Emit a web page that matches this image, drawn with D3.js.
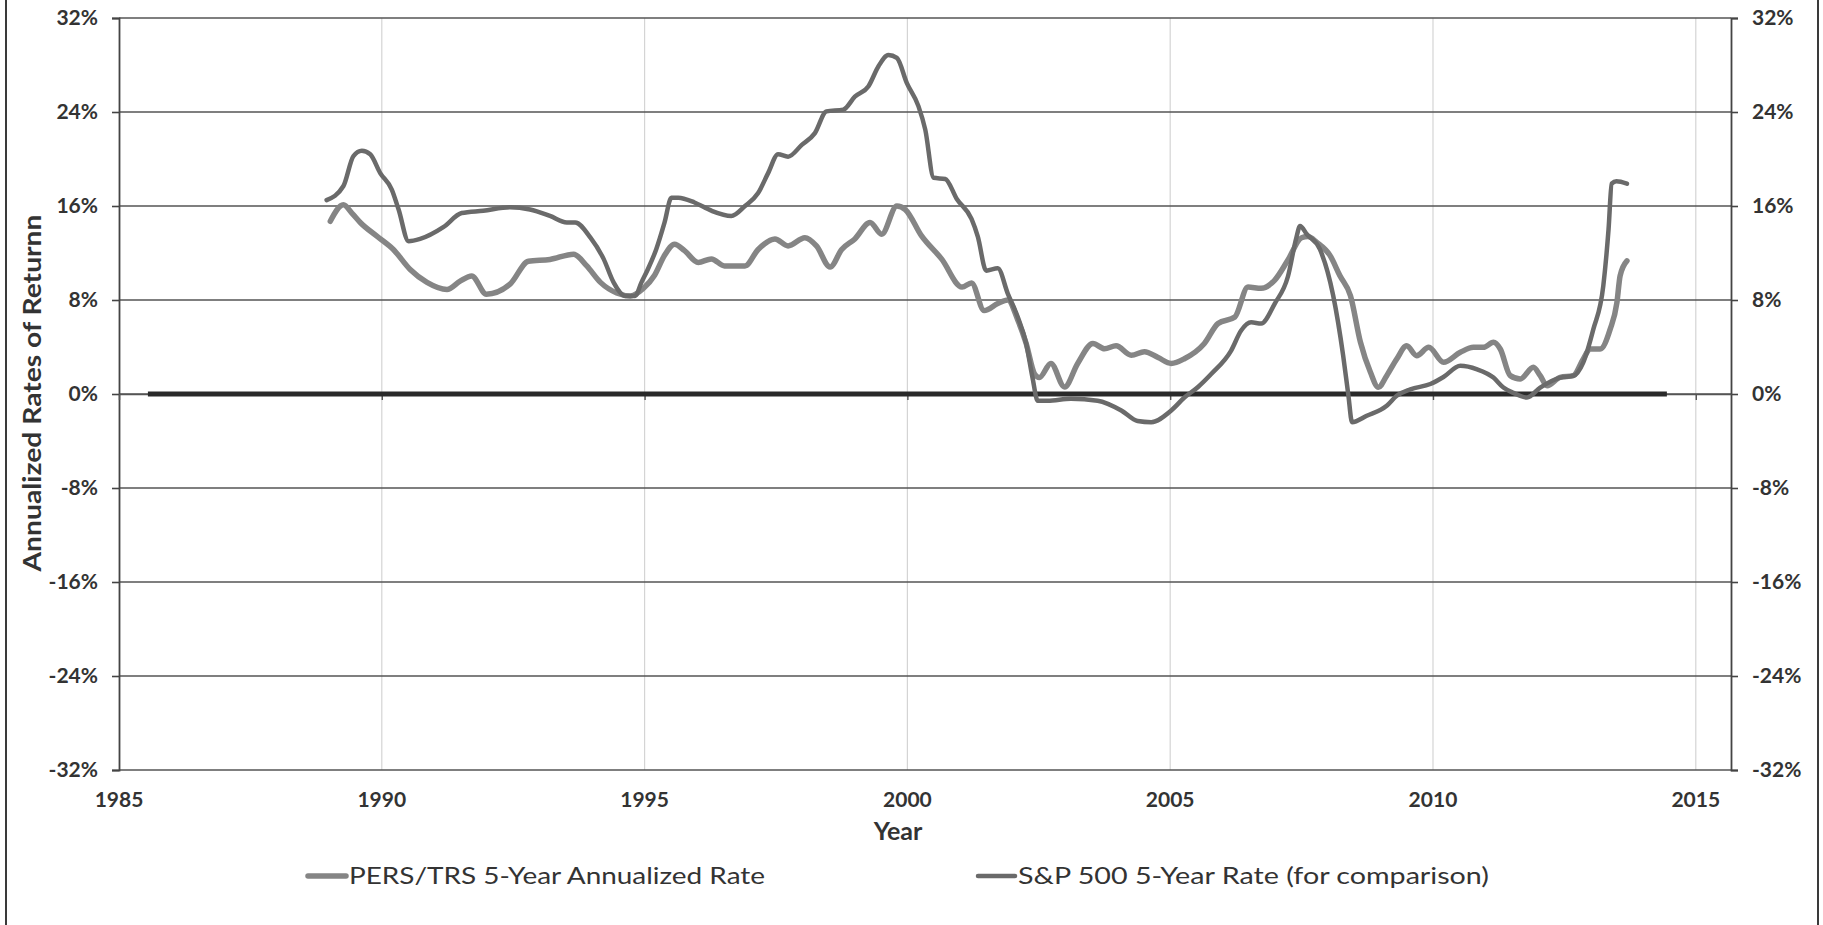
<!DOCTYPE html>
<html>
<head>
<meta charset="utf-8">
<script src="https://cdn.jsdelivr.net/npm/d3@7"></script>
<style>
  html, body { margin: 0; padding: 0; background: #fff; }
  svg { display: block; }
  text { font-family: Lato, "Open Sans", sans-serif; }
</style>
</head>
<body>
<svg id="chart" width="1823" height="925"></svg>
<script>
// ---- data -------------------------------------------------------------
const yearTicks = [1985, 1990, 1995, 2000, 2005, 2010, 2015];
const rateTicks = [-32, -24, -16, -8, 0, 8, 16, 24, 32];

const persYears = [1989.02, 1989.27, 1989.43, 1989.59, 1989.9, 1990.22, 1990.54, 1990.86, 1991.24, 1991.49,
  1991.71, 1991.99, 1992.44, 1992.79, 1993.2, 1993.65, 1993.9, 1994.16, 1994.47, 1994.73,
  1994.98, 1995.19, 1995.38, 1995.57, 1995.76, 1996.02, 1996.27, 1996.52, 1996.91, 1997.16,
  1997.48, 1997.73, 1998.05, 1998.27, 1998.53, 1998.75, 1999.0, 1999.29, 1999.51, 1999.8,
  1999.96, 2000.27, 2000.65, 2001.04, 2001.22, 2001.46, 2001.72, 2001.91, 2002.1, 2002.26,
  2002.42, 2002.51, 2002.73, 2002.99, 2003.24, 2003.53, 2003.75, 2003.97, 2004.26, 2004.51,
  2004.77, 2005.02, 2005.27, 2005.65, 2005.91, 2006.23, 2006.48, 2006.73, 2006.99, 2007.24,
  2007.5, 2007.62, 2007.79, 2008.04, 2008.23, 2008.43, 2008.62, 2008.81, 2008.96, 2009.12,
  2009.31, 2009.5, 2009.69, 2009.92, 2010.2, 2010.52, 2010.77, 2010.96, 2011.15, 2011.28,
  2011.47, 2011.66, 2011.91, 2012.04, 2012.17, 2012.42, 2012.67, 2012.86, 2012.99, 2013.18,
  2013.37, 2013.5, 2013.56, 2013.69];
const persRates = [14.7, 16.1, 15.4, 14.6, 13.45, 12.3, 10.6, 9.5, 8.9, 9.6,
  10.05, 8.5, 9.35, 11.3, 11.45, 11.9, 10.9, 9.5, 8.6, 8.35,
  9.0, 10.1, 11.8, 12.75, 12.2, 11.2, 11.5, 10.9, 10.9, 12.3,
  13.2, 12.6, 13.3, 12.6, 10.8, 12.3, 13.2, 14.6, 13.6, 16.0,
  15.7, 13.45, 11.5, 9.1, 9.45, 7.1, 7.7, 8.0, 6.3, 4.3,
  1.7, 1.4, 2.6, 0.6, 2.6, 4.3, 3.85, 4.1, 3.3, 3.6,
  3.1, 2.6, 3.0, 4.3, 6.0, 6.55, 9.1, 9.0, 9.7, 11.4,
  13.3, 13.4, 12.9, 11.8, 10.06, 8.36, 4.4, 1.85, 0.57, 1.56,
  2.98, 4.1, 3.26, 3.97, 2.7, 3.55, 3.97, 3.97, 4.4, 3.83,
  1.56, 1.28, 2.27, 1.56, 0.7, 1.42, 1.56, 2.98, 3.83, 3.83,
  5.5, 7.8, 10.06, 11.33];

const spYears = [1988.95, 1989.27, 1989.46, 1989.62, 1989.78, 1989.97, 1990.19, 1990.32, 1990.51, 1990.73,
  1991.17, 1991.52, 1991.93, 1992.44, 1992.82, 1993.2, 1993.52, 1993.68, 1993.97, 1994.22,
  1994.41, 1994.63, 1994.82, 1994.94, 1995.06, 1995.22, 1995.38, 1995.51, 1995.64, 1995.95,
  1996.27, 1996.65, 1996.91, 1997.16, 1997.35, 1997.54, 1997.73, 1997.99, 1998.24, 1998.46,
  1998.78, 1999.0, 1999.26, 1999.45, 1999.64, 1999.8, 1999.99, 2000.21, 2000.34, 2000.5,
  2000.72, 2000.94, 2001.22, 2001.34, 2001.5, 2001.72, 2001.91, 2002.1, 2002.26, 2002.38,
  2002.48, 2002.67, 2003.11, 2003.62, 2004.07, 2004.38, 2004.64, 2005.02, 2005.27, 2005.53,
  2005.78, 2006.16, 2006.35, 2006.54, 2006.73, 2006.99, 2007.24, 2007.4, 2007.47, 2007.6,
  2007.85, 2008.1, 2008.29, 2008.39, 2008.46, 2008.74, 2009.12, 2009.31, 2009.57, 2009.95,
  2010.2, 2010.52, 2010.84, 2011.15, 2011.34, 2011.53, 2011.79, 2012.04, 2012.42, 2012.67,
  2012.86, 2013.05, 2013.24, 2013.34, 2013.4, 2013.49, 2013.69];
const spRates = [16.5, 17.7, 20.25, 20.7, 20.4, 18.8, 17.4, 15.7, 13.0, 13.2,
  14.2, 15.4, 15.6, 15.9, 15.7, 15.15, 14.6, 14.6, 13.3, 11.5,
  9.5, 8.35, 8.35, 9.5, 10.6, 12.3, 14.6, 16.7, 16.7, 16.3,
  15.6, 15.15, 16.0, 17.1, 18.8, 20.4, 20.2, 21.2, 22.2, 24.05,
  24.2, 25.3, 26.2, 27.9, 28.85, 28.6, 26.45, 24.5, 22.5, 18.4,
  18.3, 16.6, 14.9, 13.4, 10.5, 10.7, 8.55, 6.55, 4.3, 1.4,
  -0.57, -0.57, -0.4, -0.57, -1.4, -2.3, -2.4, -1.4, -0.3, 0.6,
  1.7, 3.7, 5.4, 6.1, 6.0, 7.7, 10.0, 13.3, 14.3, 13.6,
  12.3, 8.4, 3.3, -0.1, -2.4, -1.85, -1.0, -0.15, 0.4, 0.85,
  1.45, 2.4, 2.1, 1.4, 0.55, 0.1, -0.3, 0.55, 1.4, 1.55,
  2.7, 5.5, 9.2, 14.0, 17.9, 18.1, 17.9];

// reference series at zero
const zeroYears = [1985.55, 2014.45];
const zeroRates = [0, 0];

const seriesNames = ["PERS/TRS 5-Year Annualized Rate", "S&P 500 5-Year Rate (for comparison)"];

// ---- layout -----------------------------------------------------------
const svg = d3.select("#chart");
const W = 1823, H = 925;
const plot = { left: 119, right: 1731, top: 18, bottom: 770 };

const x = d3.scaleLinear().domain([1985, 2015.67]).range([plot.left, plot.right]);
const y = d3.scaleLinear().domain([-32, 32]).range([plot.bottom, plot.top]);

// outer frame (left / right edges)
svg.append("line").attr("x1", 6).attr("x2", 6).attr("y1", 0).attr("y2", H)
  .attr("stroke", "#3a3a3a").attr("stroke-width", 2);
svg.append("line").attr("x1", 1818).attr("x2", 1818).attr("y1", 0).attr("y2", H)
  .attr("stroke", "#3a3a3a").attr("stroke-width", 2);

// vertical gridlines
svg.append("g").selectAll("line")
  .data(yearTicks.filter(d => d > 1985))
  .join("line")
  .attr("x1", d => x(d)).attr("x2", d => x(d))
  .attr("y1", plot.top).attr("y2", plot.bottom)
  .attr("stroke", "#d4d4d4").attr("stroke-width", 1.2);

// horizontal gridlines
svg.append("g").selectAll("line")
  .data(rateTicks)
  .join("line")
  .attr("x1", plot.left).attr("x2", plot.right)
  .attr("y1", d => y(d)).attr("y2", d => y(d))
  .attr("stroke", "#555").attr("stroke-width", 1.6);

// left / right value axes
const fmtPct = d => d + "%";
const leftAxis = d3.axisLeft(y).tickValues(rateTicks).tickFormat(fmtPct).tickSize(7).tickPadding(14);
const rightAxis = d3.axisRight(y).tickValues(rateTicks).tickFormat(fmtPct).tickSize(7).tickPadding(14);

function styleAxis(g) {
  g.select(".domain").attr("stroke", "#444").attr("stroke-width", 1.8);
  g.selectAll(".tick line").attr("stroke", "#444").attr("stroke-width", 1.6);
  g.selectAll(".tick text")
    .attr("fill", "#333")
    .style("font-family", "Lato, sans-serif")
    .style("font-weight", "700")
    .style("font-size", "21px");
}
svg.append("g").attr("transform", `translate(${plot.left},0)`).call(leftAxis).call(styleAxis);
svg.append("g").attr("transform", `translate(${plot.right},0)`).call(rightAxis).call(styleAxis);

// horizontal axis line crossing at zero, labels at the bottom
const xAxisZero = d3.axisBottom(x).tickValues(yearTicks).tickFormat("").tickSize(6).tickSizeOuter(0);
svg.append("g").attr("transform", `translate(0,${y(0)})`).call(xAxisZero)
  .call(g => {
    g.select(".domain").attr("stroke", "#555").attr("stroke-width", 1.5);
    g.selectAll(".tick line").attr("stroke", "#555").attr("stroke-width", 1.4);
  });

svg.append("g").selectAll("text")
  .data(yearTicks)
  .join("text")
  .attr("x", d => x(d))
  .attr("y", 807)
  .attr("text-anchor", "middle")
  .attr("fill", "#333")
  .style("font-weight", "700")
  .style("font-size", "21px")
  .text(d => d);

// data lines
const line = d3.line()
  .x(d => x(d[0]))
  .y(d => y(d[1]))
  .curve(d3.curveMonotoneX);

const zeroData = d3.zip(zeroYears, zeroRates);
const persData = d3.zip(persYears, persRates);
const spData = d3.zip(spYears, spRates);

svg.append("path").datum(zeroData).attr("d", line)
  .attr("fill", "none").attr("stroke", "#2a2a2a").attr("stroke-width", 5);

svg.append("path").datum(persData).attr("d", line)
  .attr("fill", "none").attr("stroke", "#858585").attr("stroke-width", 5.5)
  .attr("stroke-linejoin", "round").attr("stroke-linecap", "round");

svg.append("path").datum(spData).attr("d", line)
  .attr("fill", "none").attr("stroke", "#6a6a6a").attr("stroke-width", 4.5)
  .attr("stroke-linejoin", "round").attr("stroke-linecap", "round");

// axis titles
svg.append("text")
  .attr("x", 898).attr("y", 840)
  .attr("text-anchor", "middle")
  .attr("fill", "#333")
  .style("font-weight", "700")
  .style("font-size", "25px")
  .text("Year");

svg.append("text")
  .attr("transform", "translate(41,393) rotate(-90)")
  .attr("text-anchor", "middle")
  .attr("fill", "#333")
  .style("font-weight", "700")
  .style("font-size", "25px")
  .attr("textLength", 357)
  .attr("lengthAdjust", "spacingAndGlyphs")
  .text("Annualized Rates of Returnn");

// legend
const legendItems = [
  { name: seriesNames[0], color: "#858585", width: 5.5, x0: 308, x1: 346, tx: 349, tl: 416 },
  { name: seriesNames[1], color: "#6a6a6a", width: 4.5, x0: 978, x1: 1015, tx: 1018, tl: 471 }
];
const legend = svg.append("g");
legendItems.forEach(it => {
  legend.append("line")
    .attr("x1", it.x0).attr("x2", it.x1).attr("y1", 876).attr("y2", 876)
    .attr("stroke", it.color).attr("stroke-width", it.width).attr("stroke-linecap", "round");
  legend.append("text")
    .attr("x", it.tx).attr("y", 884)
    .attr("fill", "#333")
    .style("font-size", "24px")
    .attr("textLength", it.tl)
    .attr("lengthAdjust", "spacingAndGlyphs")
    .text(it.name);
});
</script>
</body>
</html>
